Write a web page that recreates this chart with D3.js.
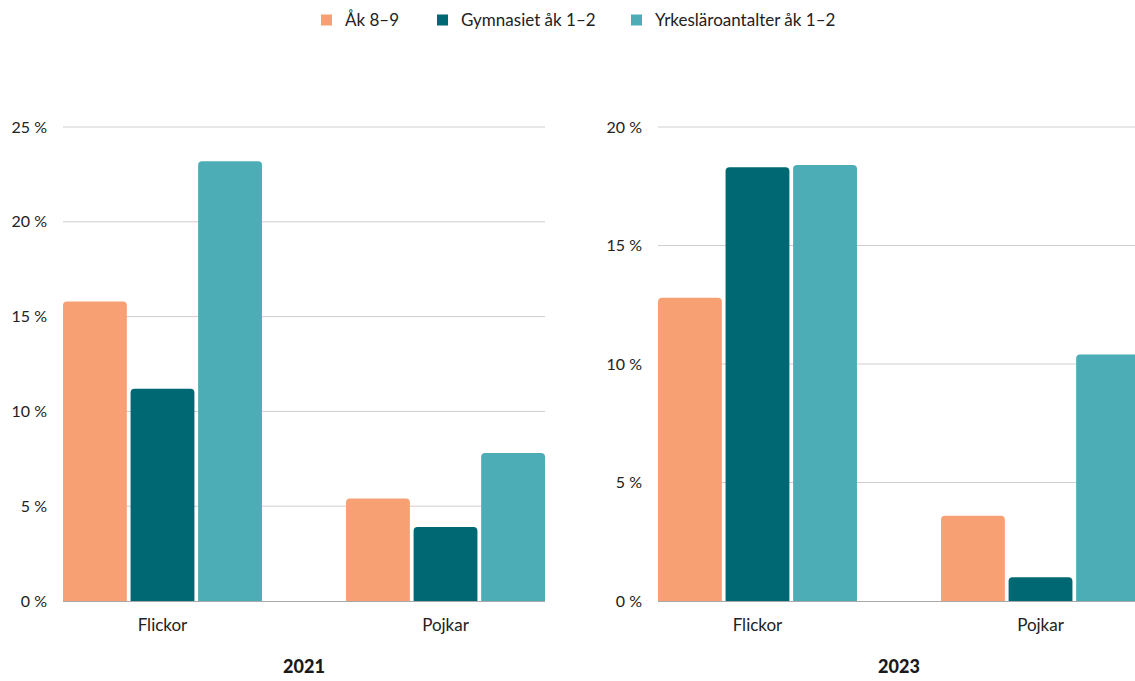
<!DOCTYPE html>
<html>
<head>
<meta charset="utf-8">
<script src="https://cdn.jsdelivr.net/npm/d3@7"></script>
<style>
  html, body { margin: 0; padding: 0; background: #fff; }
  svg { display: block; font-family: Lato, "Open Sans", sans-serif; }
</style>
</head>
<body>
<svg id="chart" width="1135" height="681"></svg>
<script>
// Data
const categories = ["Flickor", "Pojkar"];
const seriesNames = ["Åk 8–9", "Gymnasiet åk 1–2", "Yrkesläroantalter åk 1–2"];
const seriesColors = ["#F7A074", "#006872", "#4DADB7"];
const values2021 = [
  [15.8, 5.4],   // Åk 8–9
  [11.2, 3.9],   // Gymnasiet åk 1–2
  [23.2, 7.8]    // Yrkesläroantalter åk 1–2
];
const values2023 = [
  [12.8, 3.6],
  [18.3, 1.0],
  [18.4, 10.4]
];
const ticks2021 = [0, 5, 10, 15, 20, 25];
const ticks2023 = [0, 5, 10, 15, 20];
const panels = [
  { year: "2021", values: values2021, ticks: ticks2021, max: 25, x0: 63 },
  { year: "2023", values: values2023, ticks: ticks2023, max: 20, x0: 658 }
];

const svg = d3.select("#chart");
const plotTop = 127, plotBottom = 601, plotWidth = 482;

// Bar with rounded top corners
function topRoundedRect(x, y, w, h, r) {
  r = Math.min(r, h, w / 2);
  return `M${x},${y + h}V${y + r}Q${x},${y} ${x + r},${y}H${x + w - r}Q${x + w},${y} ${x + w},${y + r}V${y + h}Z`;
}

panels.forEach(p => {
  const g = svg.append("g");
  const y = d3.scaleLinear().domain([0, p.max]).range([plotBottom, plotTop]);
  const x = d3.scaleBand().domain(categories).range([p.x0, p.x0 + plotWidth])
    .paddingInner(0.297).paddingOuter(0);
  const xs = d3.scaleBand().domain(d3.range(seriesNames.length))
    .range([0, x.bandwidth()]).paddingInner(0.055).paddingOuter(0);

  // gridlines
  g.append("g").selectAll("line").data(p.ticks.filter(t => t > 0)).join("line")
    .attr("x1", p.x0).attr("x2", p.x0 + plotWidth)
    .attr("y1", d => y(d)).attr("y2", d => y(d))
    .attr("stroke", "#cfcfcf").attr("stroke-width", 1);

  // y tick labels
  g.append("g").selectAll("text").data(p.ticks).join("text")
    .attr("x", p.x0 - 16).attr("y", d => y(d))
    .attr("dy", "0.35em").attr("text-anchor", "end")
    .attr("font-size", 16).attr("fill", "#222")
    .text(d => d + " %");

  // bars
  const rows = [];
  p.values.forEach((arr, si) => arr.forEach((v, ci) => rows.push({ si, ci, v })));
  g.append("g").selectAll("path").data(rows).join("path")
    .attr("d", d => {
      const bx = x(categories[d.ci]) + xs(d.si);
      const by = y(d.v);
      return topRoundedRect(bx, by, xs.bandwidth(), plotBottom - by, 4);
    })
    .attr("fill", d => seriesColors[d.si]);

  // baseline
  g.append("line")
    .attr("x1", p.x0).attr("x2", p.x0 + plotWidth)
    .attr("y1", plotBottom + 0.5).attr("y2", plotBottom + 0.5)
    .attr("stroke", "#a8a8a8").attr("stroke-width", 1.2);

  // category labels
  g.append("g").selectAll("text").data(categories).join("text")
    .attr("x", d => x(d) + x.bandwidth() / 2).attr("y", 625)
    .attr("dy", "0.35em").attr("text-anchor", "middle")
    .attr("font-size", 17).attr("fill", "#222")
    .text(d => d);

  // year title
  g.append("text")
    .attr("x", p.x0 + 241).attr("y", 667)
    .attr("dy", "0.35em").attr("text-anchor", "middle")
    .attr("font-size", 18).attr("font-weight", 900).attr("fill", "#1a1a1a")
    .text(p.year);
});

// legend
const legendX = [321, 437, 631];
const legend = svg.append("g").selectAll("g").data(seriesNames).join("g")
  .attr("transform", (d, i) => `translate(${legendX[i]},20)`);
legend.append("rect").attr("x", 0).attr("y", -5.5).attr("width", 11).attr("height", 11)
  .attr("fill", (d, i) => seriesColors[i]);
legend.append("text").attr("x", 24).attr("y", 0).attr("dy", "0.35em")
  .attr("font-size", 17).attr("fill", "#222").text(d => d);
</script>
</body>
</html>
